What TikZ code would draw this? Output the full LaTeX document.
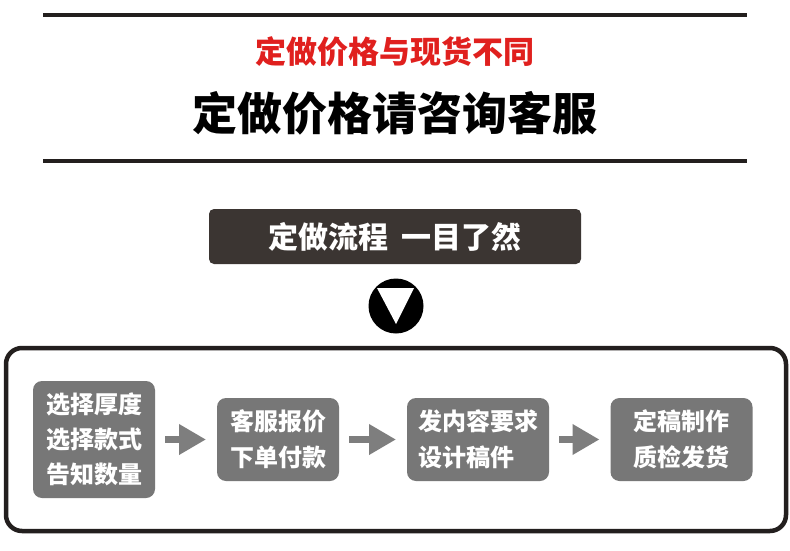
\documentclass[tikz,border=0pt]{standalone}
\usepackage{fontspec}
\usetikzlibrary{arrows.meta}
\newfontfamily\cjk{Noto Sans CJK SC}
\definecolor{lineblack}{HTML}{231F1E}
\definecolor{titlered}{HTML}{E0201E}
\definecolor{bannerdark}{HTML}{3B3532}
\definecolor{boxgray}{HTML}{777777}
\definecolor{arrowgray}{HTML}{7E7E7E}
\begin{document}
\begin{tikzpicture}[x=1pt,y=-1pt,
  every node/.style={inner sep=0pt, outer sep=0pt},
  rule/.style={line width=4pt, draw=lineblack},
  stepbox/.style={fill=boxgray, rounded corners=9pt, text=white,
    font=\cjk\bfseries\fontsize{24}{36}\selectfont, align=center},
  flow/.style={draw=arrowgray, line width=7pt,
    -{Triangle[length=27pt,width=29pt]}, shorten <=10pt, shorten >=11pt}
]
\useasboundingbox (0,0) rectangle (790,551);
\fill[white] (0,0) rectangle (790,551);

% rules and titles
\draw[rule] (43,15) -- (747,15);
\draw[rule] (43,161) -- (747,161);
\node[text=titlered, font=\cjk\bfseries\fontsize{31}{36}\selectfont] (t1) at (395,52) {定做价格与现货不同};
\node[text=black, font=\cjk\bfseries\fontsize{45}{50}\selectfont] (t2) at (395,113) {定做价格请咨询客服};

% banner
\node[fill=bannerdark, rounded corners=5pt, minimum width=372pt, minimum height=55pt,
  text=white, font=\cjk\bfseries\fontsize{30}{34}\selectfont] (banner) at (395,236.5)
  {定做流程\hspace{14pt}一目了然};

% circle with down triangle
\node[circle, fill=black, minimum size=55pt] (c) at (396,306) {};
\fill[white] ([shift={(-19,-18)}]c.center) -- ([shift={(18,-18)}]c.center) -- ([shift={(0,18)}]c.center) -- cycle;

% frame
\draw[line width=4.5pt, draw=lineblack, rounded corners=16pt] (6,348) rectangle (786,531);

% steps
\node[stepbox, minimum width=122pt, minimum height=117pt, font=\cjk\bfseries\fontsize{24}{35}\selectfont] (b1) at (94,439.5) {选择厚度\\选择款式\\告知数量};
\node[stepbox, minimum width=122pt, minimum height=83pt] (b2) at (278,439.5) {客服报价\\下单付款};
\node[stepbox, minimum width=142pt, minimum height=83pt, align=left] (b3) at (478,439.5) {发内容要求\\设计稿件};
\node[stepbox, minimum width=142pt, minimum height=83pt] (b4) at (681.5,439.5) {定稿制作\\质检发货};

\draw[flow] (b1) -- (b2);
\draw[flow] (b2) -- (b3);
\draw[flow] (b3) -- (b4);
\end{tikzpicture}
\end{document}
